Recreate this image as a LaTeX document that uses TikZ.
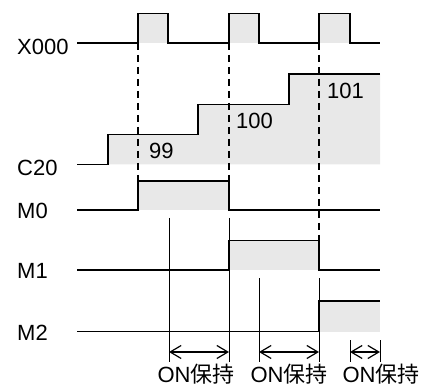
\documentclass[tikz,border=0pt]{standalone}
\usepackage{fontspec}
\setmainfont{Liberation Sans}
\newfontfamily\cjk{Noto Sans CJK JP}
\usetikzlibrary{arrows.meta}
\begin{document}
\begin{tikzpicture}[x=1pt,y=-1pt,
  sig/.style={line width=1.6pt, line join=miter},
  thinline/.style={line width=0.9pt},
  dsh/.style={line width=1.5pt, dash pattern=on 7pt off 5pt},
  lbl/.style={font=\fontsize{22}{24}\selectfont, inner sep=0pt},
  fillg/.style={fill=black!9, draw=none},
  holdarrow/.style={line width=1.2pt, {Straight Barb[length=11pt,width=13pt]}-{Straight Barb[length=11pt,width=13pt]}}]
\useasboundingbox (0,0) rectangle (428,387);
% fills
\fill[fillg] (138,13.5) rectangle (168,43);
\fill[fillg] (229,13.5) rectangle (259,43);
\fill[fillg] (319,13.5) rectangle (350,43);
\fill[fillg] (108,164.5) -- (108,134.5) -- (198,134.5) -- (198,104.5) -- (289,104.5) -- (289,74) -- (380,74) -- (380,164.5) -- cycle;
\fill[fillg] (138,181) rectangle (229,210);
\fill[fillg] (229,240.5) rectangle (319,270);
\fill[fillg] (319,301) rectangle (380,331.5);
% dashed guides
\draw[dsh] (138,43) -- (138,181);
\draw[dsh] (229,43) -- (229,181);
\draw[dsh] (319,43) -- (319,240.5);
% signals
\draw[sig] (77,43) -- (138,43) -- (138,13.5) -- (168,13.5) -- (168,43) -- (229,43) -- (229,13.5) -- (259,13.5) -- (259,43) -- (319,43) -- (319,13.5) -- (350,13.5) -- (350,43) -- (380,43);
\draw[sig] (77,164.5) -- (108,164.5) -- (108,134.5) -- (198,134.5) -- (198,104.5) -- (289,104.5) -- (289,74) -- (380,74);
\draw[sig] (77,210) -- (138,210) -- (138,181) -- (229,181) -- (229,210) -- (380,210);
\draw[sig] (77,270) -- (229,270) -- (229,240.5) -- (319,240.5) -- (319,270) -- (380,270);
\draw[sig] (77,331.5) -- (319,331.5) -- (319,301) -- (380,301);
% thin markers
\draw[thinline] (169,218) -- (169,362);
\draw[thinline] (229,218) -- (229,362);
\draw[thinline] (259,278) -- (259,362);
\draw[thinline] (319,278) -- (319,362);
\draw[thinline] (350,340) -- (350,362);
\draw[thinline] (380,340) -- (380,362);
% arrow end coordinates
\coordinate (a1l) at (169,352);
\coordinate (a1r) at (229,352);
\coordinate (a2l) at (259,352);
\coordinate (a2r) at (319,352);
\coordinate (a3l) at (350,352);
\coordinate (a3r) at (380,352);
\draw[holdarrow] (a1l) -- (a1r);
\draw[holdarrow] (a2l) -- (a2r);
\draw[holdarrow] (a3l) -- (a3r);
% labels
\node[lbl, anchor=west] (lx) at (17,46.5) {X000};
\node[lbl, anchor=west] (lc) at (17,167.5) {C20};
\node[lbl, anchor=west] (lm0) at (17,211) {M0};
\node[lbl, anchor=west] (lm1) at (17,271) {M1};
\node[lbl, anchor=west] (lm2) at (17,333) {M2};
\node[lbl, anchor=west] (n99) at (149,151) {99};
\node[lbl, anchor=west] (n100) at (236,121) {100};
\node[lbl, anchor=west] (n101) at (327,91) {101};
\node[lbl, anchor=base] (h1) at (196,382.5) {ON{\cjk 保持}};
\node[lbl, anchor=base] (h2) at (289,382.5) {ON{\cjk 保持}};
\node[lbl, anchor=base] (h3) at (381,382.5) {ON{\cjk 保持}};
\end{tikzpicture}
\end{document}
